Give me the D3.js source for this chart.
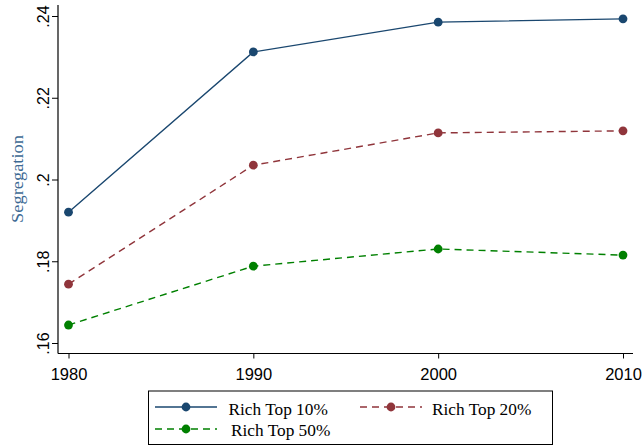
<!DOCTYPE html>
<html><head><meta charset="utf-8">
<script src="https://cdn.jsdelivr.net/npm/d3@7"></script>
<style>body{margin:0;background:#fff}svg{display:block}</style>
</head><body>
<svg id="c" width="644" height="447"></svg>
<script>
const years = [1980, 1990, 2000, 2010];
const top10 = [0.1920, 0.2312, 0.2385, 0.2393];
const top20 = [0.1744, 0.2035, 0.2114, 0.2119];
const top50 = [0.1644, 0.1788, 0.1830, 0.1815];
const yTicks = [0.16, 0.18, 0.20, 0.22, 0.24];
const yTickLabels = [".16", ".18", ".2", ".22", ".24"];
const seriesNames = ["Rich Top 10%", "Rich Top 20%", "Rich Top 50%"];

const series = [
  {name: seriesNames[0], values: top10, color: "#1a476f", dash: null},
  {name: seriesNames[1], values: top20, color: "#90353b", dash: "7,5"},
  {name: seriesNames[2], values: top50, color: "#008000", dash: "7,5"}
];

const svg = d3.select("#c");
const x = d3.scaleLinear().domain([1980, 2010]).range([68.5, 623]);
const y = d3.scaleLinear().domain([0.16, 0.24]).range([343, 16]);

// axes
const yAxis = d3.axisLeft(y).tickValues(yTicks).tickSize(6).tickFormat((d,i)=>yTickLabels[i]);
const gy = svg.append("g").attr("transform","translate(58,0)").call(yAxis);
gy.select(".domain").attr("d","M0,5V353.5").attr("stroke","#000").attr("stroke-width",1.2);
gy.selectAll(".tick line").attr("stroke","#000");
gy.selectAll(".tick text").attr("font-family","Liberation Sans, Arial, sans-serif").attr("font-size",16)
  .attr("fill","#000").attr("text-anchor","middle").attr("x",0).attr("y",0).attr("dy",0)
  .attr("transform","translate(-9,0) rotate(-90)");

const xAxis = d3.axisBottom(x).tickValues(years).tickSize(5).tickFormat(d3.format("d"));
const gx = svg.append("g").attr("transform","translate(0,353.5)").call(xAxis);
gx.select(".domain").attr("d","M58,0H633").attr("stroke","#000").attr("stroke-width",1.2);
gx.selectAll(".tick line").attr("stroke","#000");
gx.selectAll(".tick text").attr("font-family","Liberation Sans, Arial, sans-serif").attr("font-size",16.5)
  .attr("fill","#000").attr("y",26.5).attr("dy",0);

svg.append("text").attr("transform","translate(23,179) rotate(-90)").attr("text-anchor","middle")
  .attr("font-family","Liberation Serif, serif").attr("font-size",16).attr("fill","#3d6a94")
  .attr("textLength",88).attr("lengthAdjust","spacingAndGlyphs").text("Segregation");

const line = d3.line().x((d,i)=>x(years[i])).y(d=>y(d));
series.forEach(s=>{
  svg.append("path").attr("d",line(s.values)).attr("fill","none").attr("stroke",s.color)
    .attr("stroke-width",1.4).attr("stroke-dasharray",s.dash);
  svg.selectAll(null).data(s.values).enter().append("circle")
    .attr("cx",(d,i)=>x(years[i])).attr("cy",d=>y(d)).attr("r",4.4).attr("fill",s.color);
});

// legend
const lg = svg.append("g");
lg.append("rect").attr("x",148.5).attr("y",391).attr("width",404).attr("height",53.5)
  .attr("fill","#fff").attr("stroke","#000").attr("stroke-width",1);
const items = [
  {s: series[0], kx: 155, ky: 407, ty: 415, tx: 228.5},
  {s: series[1], kx: 360, ky: 407, ty: 415, tx: 432},
  {s: series[2], kx: 155, ky: 429, ty: 436, tx: 231}
];
items.forEach(it=>{
  lg.append("line").attr("x1",it.kx).attr("x2",it.kx+62).attr("y1",it.ky).attr("y2",it.ky)
    .attr("stroke",it.s.color).attr("stroke-width",1.4).attr("stroke-dasharray",it.s.dash);
  lg.append("circle").attr("cx",it.kx+31).attr("cy",it.ky).attr("r",4.4).attr("fill",it.s.color);
  lg.append("text").attr("x",it.tx).attr("y",it.ty).attr("font-family","Liberation Serif, serif")
    .attr("font-size",17.3).attr("fill","#000").text(it.s.name);
});
</script>
</body></html>
